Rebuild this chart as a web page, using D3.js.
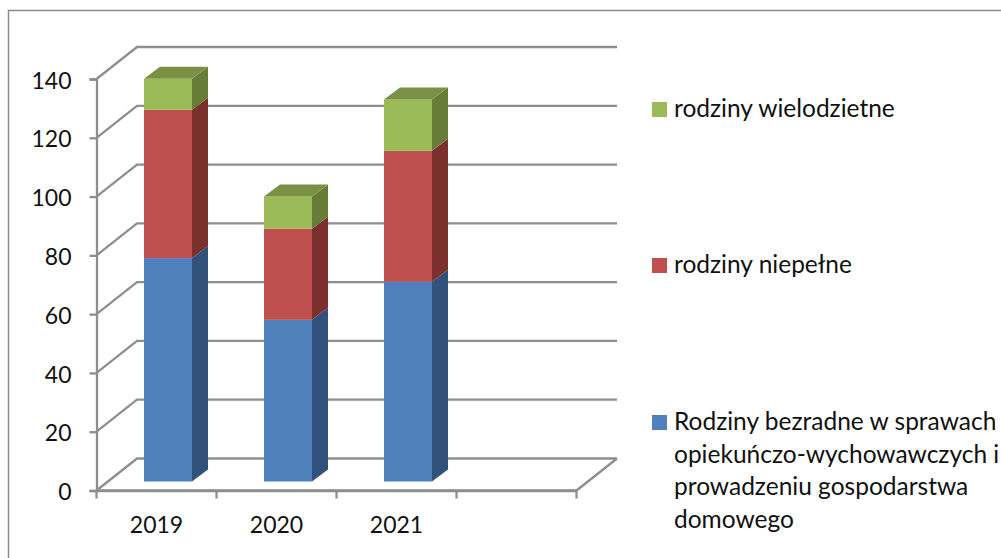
<!DOCTYPE html>
<html>
<head>
<meta charset="utf-8">
<script src="https://cdnjs.cloudflare.com/ajax/libs/d3/7.8.5/d3.min.js"></script>
<style>
  html, body { margin: 0; padding: 0; background: #fff; }
  text { font-family: Lato, "Open Sans", sans-serif; fill: #111; }
</style>
</head>
<body>
<div id="graph"></div>
<script>
// values
var years = ['2019', '2020', '2021', ''];
var bezradne = [76, 55, 68];
var niepelne = [50.5, 31, 44.5];
var wielodzietne = [10.5, 11, 17.5];
var yTicks = [0, 20, 40, 60, 80, 100, 120, 140];
var legendLabels = ['rodziny wielodzietne', 'rodziny niepełne'];
var legendLong = ['Rodziny bezradne w sprawach', 'opiekuńczo-wychowawczych i', 'prowadzeniu gospodarstwa', 'domowego'];

var width = 1001, height = 558;
var grid = '#8e8e8e';

var svg = d3.select('#graph').append('svg')
  .attr('width', width).attr('height', height)
  .style('display', 'block');

// outer frame, runs off the right and bottom of the picture
svg.append('path')
  .attr('d', 'M8.5,' + height + 'V10.5H' + width)
  .attr('fill', 'none').attr('stroke', '#8c8c8c').attr('stroke-width', 1.5);

var x = d3.scaleBand().domain(years).range([96.5, 576.5]);
var y = d3.scaleLinear().domain([0, 140]).range([490.5, 79]);

// 3d offsets
var wallDx = 40.5, wallDy = -32;
var depthDx = 16, depthDy = -12;
var floorLift = -9;

// ---------- walls ----------
var walls = svg.append('g').attr('fill', 'none').attr('stroke', grid).attr('stroke-width', 2.3);

yTicks.forEach(function(t) {
  var py = y(t);
  walls.append('path')
    .attr('d', d3.line()([
      [x.range()[0], py],
      [x.range()[0] + wallDx, py + wallDy],
      [x.range()[1] + wallDx, py + wallDy]
    ]));
});
// floor front and right edge
walls.append('path').attr('d', d3.line()([
  [x.range()[0], y(0)],
  [x.range()[1], y(0)],
  [x.range()[1] + wallDx, y(0) + wallDy]
]));

// ---------- axes ----------
var yAxis = d3.axisLeft(y).tickValues(yTicks).tickSize(7).tickPadding(18);
var gy = svg.append('g').attr('transform', 'translate(' + x.range()[0] + ',0)').call(yAxis);
var xAxis = d3.axisBottom(x).tickSize(0).tickPadding(26);
var gx = svg.append('g').attr('transform', 'translate(0,' + y(0) + ')').call(xAxis);
// ticks sit between the categories
gx.selectAll('.between').data(x.domain().concat('end')).enter().append('line')
  .attr('class', 'between')
  .attr('x1', function(d, i) { return x.range()[0] + i * x.bandwidth(); })
  .attr('x2', function(d, i) { return x.range()[0] + i * x.bandwidth(); })
  .attr('y1', 0).attr('y2', 8)
  .attr('stroke', grid).attr('stroke-width', 2.3);

[gy, gx].forEach(function(g) {
  g.select('.domain').attr('stroke', grid).attr('stroke-width', 2.3);
  g.selectAll('.tick line').attr('stroke', grid).attr('stroke-width', 2.3);
  g.selectAll('.tick text').style('font-size', '23px').style('font-family', 'Lato').attr('fill', '#111');
});
gy.selectAll('.tick text').attr('dy', '0.4em');

// ---------- stacked bars ----------
var series = [
  { name: 'bezradne', values: bezradne, front: '#4f81bd', side: '#31527a', top: '#3d6696' },
  { name: 'niepelne', values: niepelne, front: '#c0504d', side: '#7c302e', top: '#97403d' },
  { name: 'wielodzietne', values: wielodzietne, front: '#9bbb59', side: '#667c37', top: '#7a9145' }
];

var barW = x.bandwidth() * 0.4;
var bars = svg.append('g').attr('transform', 'translate(-0.5,' + floorLift + ')');

years.slice(0, 3).forEach(function(yr, i) {
  var bx = x(yr) + x.bandwidth() * 0.4;
  var base = 0;
  series.forEach(function(s, si) {
    var y0 = y(base), y1 = y(base + s.values[i]);
    base += s.values[i];
    bars.append('rect').attr('x', bx).attr('y', y1)
      .attr('width', barW).attr('height', y0 - y1).attr('fill', s.front);
    bars.append('path').attr('fill', s.side).attr('d', d3.line()([
      [bx + barW, y0],
      [bx + barW + depthDx, y0 + depthDy],
      [bx + barW + depthDx, y1 + depthDy],
      [bx + barW, y1]
    ]) + 'Z');
    if (si === series.length - 1) {
      bars.append('path').attr('fill', s.top).attr('d', d3.line()([
        [bx, y1],
        [bx + depthDx, y1 + depthDy],
        [bx + barW + depthDx, y1 + depthDy],
        [bx + barW, y1]
      ]) + 'Z');
    }
  });
});

// ---------- legend ----------
var legendSize = '24.5px';
var legend = svg.append('g');
legend.append('rect').attr('x', 652).attr('y', 102).attr('width', 15).attr('height', 15).attr('fill', series[2].front);
legend.append('text').attr('x', 674).attr('y', 117).style('font-size', legendSize).text(legendLabels[0]);
legend.append('rect').attr('x', 652).attr('y', 258).attr('width', 15).attr('height', 15).attr('fill', series[1].front);
legend.append('text').attr('x', 674).attr('y', 273).style('font-size', legendSize).text(legendLabels[1]);
legend.append('rect').attr('x', 652).attr('y', 415).attr('width', 15).attr('height', 15).attr('fill', series[0].front);
legendLong.forEach(function(line, i) {
  legend.append('text').attr('x', 674).attr('y', 430 + i * 32.5).style('font-size', legendSize).text(line);
});
</script>
</body>
</html>
